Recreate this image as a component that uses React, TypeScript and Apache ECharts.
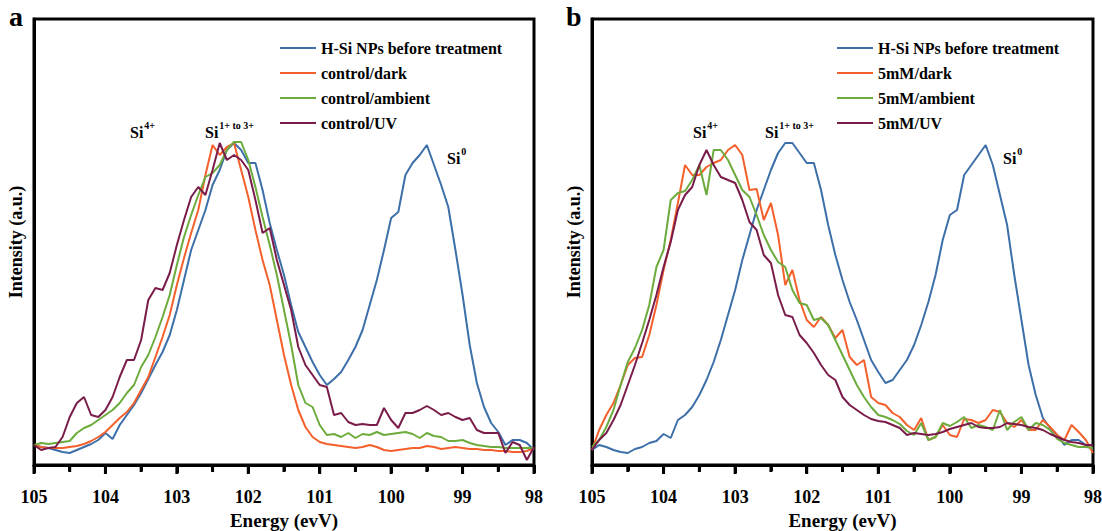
import React, { useEffect, useRef } from "react";
import * as echarts from "echarts";

// Binding energy grid (eV)
const energies = [
  105.0, 104.9, 104.8, 104.7, 104.6, 104.5, 104.4, 104.3, 104.2, 104.1,
  104.0, 103.9, 103.8, 103.7, 103.6, 103.5, 103.4, 103.3, 103.2, 103.1,
  103.0, 102.9, 102.8, 102.7, 102.6, 102.5, 102.4, 102.3, 102.2, 102.1,
  102.0, 101.9, 101.8, 101.7, 101.6, 101.5, 101.4, 101.3, 101.2, 101.1,
  101.0, 100.9, 100.8, 100.7, 100.6, 100.5, 100.4, 100.3, 100.2, 100.1,
  100.0, 99.9, 99.8, 99.7, 99.6, 99.5, 99.4, 99.3, 99.2, 99.1,
  99.0, 98.9, 98.8, 98.7, 98.6, 98.5, 98.4, 98.3, 98.2, 98.1,
  98.0,
];

const xTicks = [105, 104, 103, 102, 101, 100, 99, 98];
const xMinorTicks = [104.5, 103.5, 102.5, 101.5, 100.5, 99.5, 98.5];

// Panel a
const aBefore = [
  20, 18, 17, 15, 13, 12, 15, 18, 21, 25,
  32, 26, 40, 50, 60, 72, 86, 100, 113, 130,
  155, 185, 215, 235, 255, 280, 295, 315, 322, 315,
  302, 302, 275, 242, 215, 190, 160, 133, 118, 103,
  90, 80, 86, 93, 105, 118, 135, 160, 185, 215,
  247, 253, 290, 302, 310, 320, 300, 280, 258, 215,
  170, 120, 82, 58, 42, 33, 20, 25, 25, 22,
  15,
];
const aDark = [
  20, 18, 17, 17, 17, 18, 19, 21, 24, 28,
  33, 40, 47, 53, 62, 75, 88, 108, 128, 150,
  180, 207, 232, 255, 290, 320, 310, 318, 322, 295,
  268, 235, 205, 180, 145, 110, 80, 55, 38, 28,
  23, 21, 20, 19, 18, 17, 18, 20, 18, 15,
  14, 15, 16, 17, 17, 19, 18, 16, 17, 18,
  17, 16, 16, 15, 15, 14, 14, 13, 13, 14,
  17,
];
const aAmbient = [
  20, 22, 21, 22, 23, 24, 32, 37, 40, 45,
  50, 55, 62, 72, 80, 98, 110, 128, 148, 170,
  200, 228, 250, 270, 288, 292, 300, 315, 323, 323,
  305, 278, 248, 220, 190, 155, 120, 80, 62, 58,
  40, 30, 31, 28, 32, 27, 31, 30, 33, 30,
  31, 32, 33, 31, 27, 32, 29, 28, 24, 24,
  25, 22, 20, 19, 18, 18, 17, 17, 17, 17,
  17,
];
const aUV = [
  20, 15, 17, 18, 28, 48, 62, 68, 50, 48,
  55, 68, 88, 105, 105, 125, 165, 177, 175, 192,
  220, 245, 268, 278, 270, 295, 322, 305, 310, 305,
  295, 265, 232, 237, 205, 180, 155, 118, 100, 90,
  80, 78, 50, 52, 43, 40, 41, 40, 40, 57,
  45, 37, 52, 52, 55, 59, 55, 50, 52, 48,
  45, 47, 35, 32, 32, 32, 12, 23, 20, 5,
  18,
];

// Panel b
const bBefore = [
  15, 20, 18, 15, 13, 12, 16, 18, 22, 24,
  31, 27, 45, 50, 58, 70, 85, 103, 125, 150,
  175, 205, 230, 255, 275, 295, 312, 322, 322, 312,
  302, 302, 275, 240, 210, 185, 163, 145, 125, 105,
  93, 82, 85, 95, 105, 120, 140, 163, 190, 225,
  250, 255, 290, 300, 310, 320, 300, 270, 240, 190,
  145, 100, 70, 47, 37, 30, 20, 25, 25, 20,
  15,
];
const bDark = [
  15, 35, 50, 62, 80, 100, 107, 108, 130, 160,
  195, 225, 262, 300, 290, 290, 298, 302, 305, 315,
  320, 310, 275, 276, 245, 262, 230, 180, 195, 165,
  145, 138, 148, 140, 127, 135, 108, 100, 105, 68,
  62, 60, 52, 48, 40, 35, 47, 25, 28, 40,
  30, 28, 46, 45, 42, 45, 55, 53, 42, 38,
  45, 35, 35, 45, 38, 30, 25, 40, 33, 25,
  12,
];
const bAmbient = [
  18, 25, 38, 55, 80, 103, 117, 135, 160, 198,
  215, 265, 272, 274, 285, 300, 270, 315, 315, 305,
  290, 275, 268, 250, 230, 215, 203, 198, 175, 162,
  160, 145, 147, 140, 125, 110, 95, 80, 68, 58,
  50, 48, 45, 41, 34, 30, 42, 25, 28, 42,
  39, 43, 48, 37, 40, 38, 35, 55, 35, 43,
  48, 35, 42, 40, 35, 26, 22, 20, 18, 18,
  17,
];
const bUV = [
  15, 25, 32, 45, 60, 80, 100, 122, 145, 170,
  198, 223, 255, 270, 278, 300, 315, 300, 288, 285,
  282, 265, 243, 235, 210, 202, 170, 150, 148, 130,
  122, 112, 100, 90, 85, 68, 60, 55, 50, 46,
  44, 43, 40, 37, 30, 32, 31, 30, 31, 33,
  36, 38, 40, 42, 38, 37, 37, 38, 42, 41,
  40, 38, 37, 35, 31, 28, 25, 23, 22, 20,
  20,
];

const namesA = ["H-Si NPs before treatment", "control/dark", "control/ambient", "control/UV"];
const namesB = ["H-Si NPs before treatment", "5mM/dark", "5mM/ambient", "5mM/UV"];
const colors = ["#3d6fa9", "#f4602c", "#6cab3c", "#7a1c4a"];

const FONT = "Liberation Serif";

const pairs = (vals: number[]) => energies.map((e, i) => [e, vals[i]]);

export default function App() {
  const ref = useRef<HTMLDivElement>(null);
  useEffect(() => {
    if (!ref.current) return;
    const chart = echarts.init(ref.current, undefined, { renderer: "svg" });

    const grids = [
      { left: 34, top: 19, width: 500, height: 446 },
      { left: 592, top: 19, width: 501, height: 446 },
    ];

    const xAxis = grids.map((_, i) => ({
      type: "value",
      gridIndex: i,
      inverse: true,
      min: 98,
      max: 105,
      interval: 1,
      name: "Energy (evV)",
      nameLocation: "middle",
      nameGap: 40,
      nameTextStyle: { fontFamily: FONT, fontWeight: "bold", fontSize: 19, color: "#000" },
      axisLine: { show: true, onZero: false, lineStyle: { color: "#000", width: 3 } },
      axisTick: { show: true, length: 8, lineStyle: { color: "#000", width: 3 } },
      minorTick: { show: true, splitNumber: 2, length: 6, lineStyle: { color: "#000", width: 3 } },
      splitLine: { show: false },
      minorSplitLine: { show: false },
      axisLabel: {
        show: true,
        margin: 23,
        fontFamily: FONT,
        fontWeight: "bold",
        fontSize: 18,
        color: "#000",
        formatter: (v: number) => (xTicks.includes(v) ? String(v) : ""),
      },
    }));

    const yAxis = grids.map((_, i) => ({
      type: "value",
      gridIndex: i,
      min: 0,
      max: 446,
      name: "Intensity (a.u.)",
      nameLocation: "middle",
      nameGap: 9,
      nameTextStyle: { fontFamily: FONT, fontWeight: "bold", fontSize: 18, color: "#000" },
      axisLine: { show: true, lineStyle: { color: "#000", width: 3 } },
      axisTick: { show: false },
      axisLabel: { show: false },
      splitLine: { show: false },
    }));

    const mk = (name: string, vals: number[], color: string, gi: number) => ({
      type: "line",
      name,
      xAxisIndex: gi,
      yAxisIndex: gi,
      data: pairs(vals),
      symbol: "none",
      showSymbol: false,
      lineStyle: { color, width: 2 },
      itemStyle: { color },
      z: 3,
    });

    // Outward tick marks positioned by the x scale
    const tickSeries = (gi: number) => ({
      type: "custom",
      xAxisIndex: gi,
      yAxisIndex: gi,
      silent: true,
      clip: false,
      z: 10,
      data: [...xTicks.map((v) => [v, 0, 1]), ...xMinorTicks.map((v) => [v, 0, 0])],
      renderItem: (_params: any, api: any) => {
        const p = api.coord([api.value(0), 0]);
        const len = api.value(2) === 1 ? 9 : 7;
        return {
          type: "line",
          shape: { x1: p[0], y1: p[1], x2: p[0], y2: p[1] + len },
          style: { stroke: "#000", lineWidth: 3 },
        };
      },
    });

    const series = [
      mk(namesA[0], aBefore, colors[0], 0),
      mk(namesA[1], aDark, colors[1], 0),
      mk(namesA[2], aAmbient, colors[2], 0),
      mk(namesA[3], aUV, colors[3], 0),
      mk(namesB[0], bBefore, colors[0], 1),
      mk(namesB[1], bDark, colors[1], 1),
      mk(namesB[2], bAmbient, colors[2], 1),
      mk(namesB[3], bUV, colors[3], 1),
      tickSeries(0),
      tickSeries(1),
    ];

    const legendBase = {
      orient: "vertical",
      top: 35,
      icon: "rect",
      itemWidth: 36,
      itemHeight: 2,
      itemGap: 9,
      selectedMode: false,
      textStyle: { fontFamily: FONT, fontWeight: "bold", fontSize: 16, color: "#000", lineHeight: 15 },
    };

    const rich = {
      b: { fontFamily: FONT, fontWeight: "bold", fontSize: 16, fill: "#000", lineHeight: 20, verticalAlign: "bottom" },
      s: { fontFamily: FONT, fontWeight: "bold", fontSize: 10, fill: "#000", lineHeight: 20, verticalAlign: "top", padding: [0, 0, 0, 1] },
    };
    const label = (x: number, y: number, base: string, sup: string) => ({
      type: "text",
      left: x,
      top: y,
      style: { text: `{b|${base}}{s|${sup}}`, rich },
      z: 10,
    });

    chart.setOption({
      animation: false,
      grid: grids.map((g) => ({ ...g, outerBoundsMode: "none", containLabel: false, show: true, borderColor: "#000", borderWidth: 3 })),
      xAxis,
      yAxis,
      legend: [
        { ...legendBase, left: 275, data: namesA },
        { ...legendBase, left: 832, data: namesB },
      ],
      series,
      graphic: [
        { type: "text", left: 9, top: 2, style: { text: "a", fontFamily: FONT, fontWeight: "bold", fontSize: 28, fill: "#000" } },
        { type: "text", left: 566, top: 2, style: { text: "b", fontFamily: FONT, fontWeight: "bold", fontSize: 28, fill: "#000" } },
        label(130, 120, "Si", "4+"),
        label(205, 120, "Si", "1+ to 3+"),
        label(447, 146, "Si", "0"),
        label(693, 120, "Si", "4+"),
        label(765, 120, "Si", "1+ to 3+"),
        label(1003, 146, "Si", "0"),
      ],
    });
    return () => chart.dispose();
  }, []);
  return (
    <div
      ref={ref}
      style={{ position: "fixed", left: 0, top: 0, width: 1102, height: 531, background: "#fff" }}
    />
  );
}
